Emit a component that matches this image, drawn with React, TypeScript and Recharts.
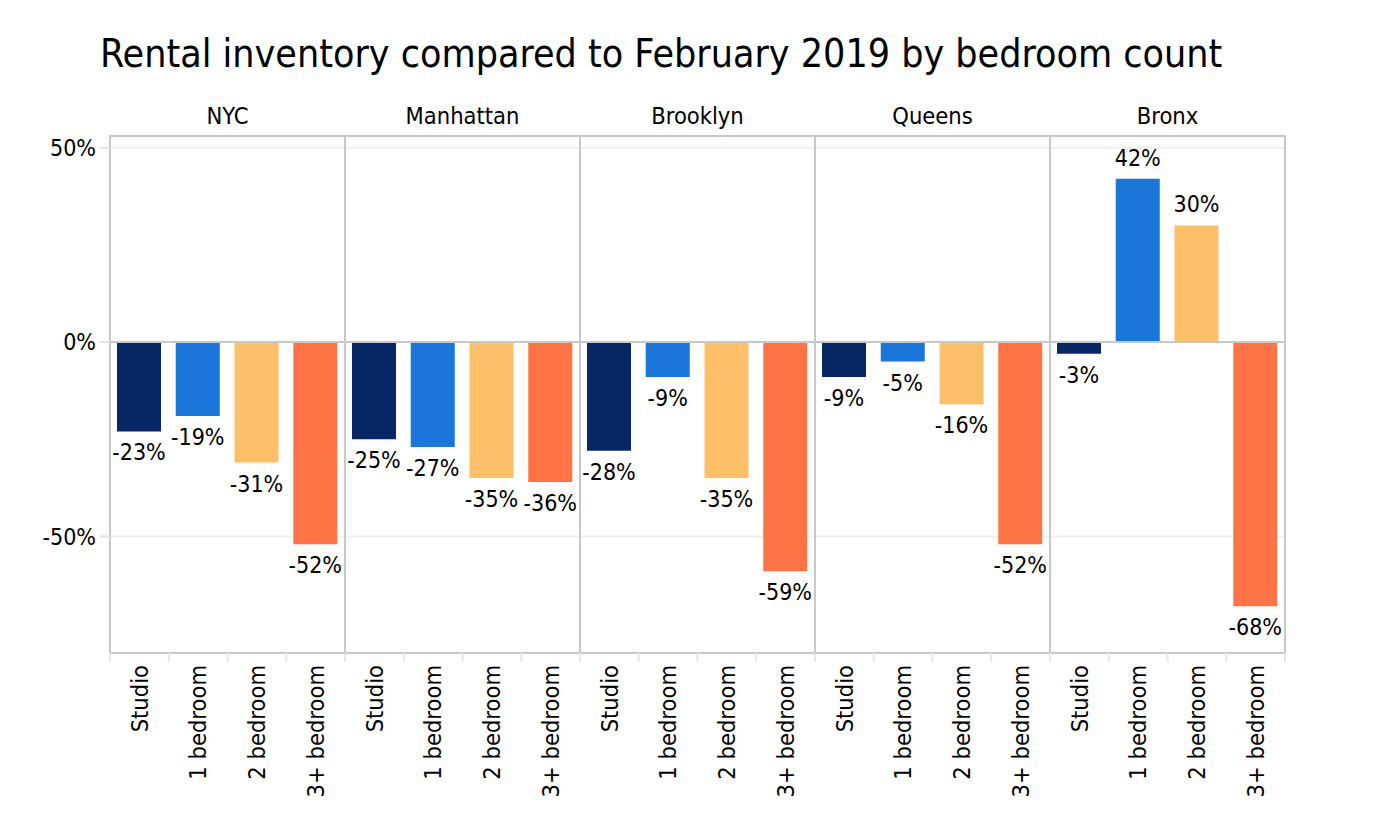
import { BarChart, Bar, XAxis, YAxis, CartesianGrid, ReferenceLine, ReferenceArea, LabelList, Cell } from "recharts";

const boroughs = ["NYC", "Manhattan", "Brooklyn", "Queens", "Bronx"];
const bedrooms = ["Studio", "1 bedroom", "2 bedroom", "3+ bedroom"];
const nycValues = [-23, -19, -31, -52];
const manhattanValues = [-25, -27, -35, -36];
const brooklynValues = [-28, -9, -35, -59];
const queensValues = [-9, -5, -16, -52];
const bronxValues = [-3, 42, 30, -68];
const bedroomColors = ["#062664", "#1b76d9", "#fdc068", "#ff7446"];
const yTicks = [-50, 0, 50];

const valuesByBorough = [nycValues, manhattanValues, brooklynValues, queensValues, bronxValues];

const data = boroughs.flatMap((borough, bi) =>
  bedrooms.map((bedroom, i) => ({
    pos: bi * bedrooms.length + i + 0.5,
    borough,
    bedroom,
    value: valuesByBorough[bi][i],
    color: bedroomColors[i],
  }))
);

// integer ticks = separator marks, half ticks = category labels
const xTicks = Array.from({ length: data.length * 2 + 1 }, (_, k) => k / 2);

const FONT = "Tahoma, 'DejaVu Sans Condensed', 'DejaVu Sans', sans-serif";

const renderXTick = (props: any) => {
  const { x, y, payload } = props;
  const v = Number(payload?.value);
  if (Number.isInteger(v)) {
    return <line x1={x} x2={x} y1={y} y2={y + 9} stroke="#e6e6e6" strokeWidth={2} />;
  }
  const label = bedrooms[Math.floor(v) % bedrooms.length];
  const ty = y + 12;
  return (
    <text x={x} y={ty} dy="0.35em" textAnchor="end" fill="#000" fontSize={23.5} transform={`rotate(-90 ${x} ${ty})`}>
      {label}
    </text>
  );
};

const renderBarLabel = (props: any) => {
  const vb = props.viewBox || props;
  const x = Number(vb.x) || 0;
  const y = Number(vb.y) || 0;
  const w = Number(vb.width) || 0;
  const h = Number(vb.height) || 0;
  const value = Number(props.value);
  const top = Math.min(y, y + h);
  const bottom = Math.max(y, y + h);
  const ty = value < 0 ? bottom + 21 : top - 21;
  return (
    <text x={x + w / 2} y={ty} dy="0.35em" textAnchor="middle" fill="#000" fontSize={23}>
      {`${value}%`}
    </text>
  );
};

export default function App() {
  return (
    <div style={{ position: "relative", width: 1370, height: 800, fontFamily: FONT, background: "#fff" }}>
      <div style={{ position: "absolute", left: 92, top: 26, fontSize: 39, lineHeight: "39px", color: "#000", whiteSpace: "nowrap" }}>
        Rental inventory compared to February 2019 by bedroom count
      </div>
      <BarChart width={1370} height={800} data={data} margin={{ top: 128, right: 93, left: 32, bottom: 10 }}>
        <CartesianGrid vertical={false} stroke="#efefef" strokeWidth={2} />
        <XAxis
          type="number"
          dataKey="pos"
          domain={[0, data.length]}
          ticks={xTicks}
          interval={0}
          tick={renderXTick}
          tickLine={false}
          axisLine={false}
          tickSize={0}
          tickMargin={0}
          height={145}
        />
        <YAxis
          type="number"
          domain={[-80, 53]}
          ticks={yTicks}
          allowDataOverflow
          tickFormatter={(v: number) => `${v}%`}
          axisLine={false}
          tickLine={{ stroke: "#e3e3e3", strokeWidth: 2 }}
          tickSize={10}
          tickMargin={4}
          width={70}
          tick={{ fill: "#000", fontSize: 23 }}
        />
        <ReferenceLine y={0} stroke="#c8c8c8" strokeWidth={2} />
        {boroughs.map((b, bi) => (
          <ReferenceArea
            key={b}
            x1={bi * bedrooms.length}
            x2={(bi + 1) * bedrooms.length}
            fill="none"
            fillOpacity={0}
            stroke="#c8c8c8"
            strokeWidth={2}
            label={{ value: b, position: "top", offset: 12, fill: "#000", fontSize: 23.5 }}
          />
        ))}
        <Bar dataKey="value" barSize={44} isAnimationActive={false}>
          {data.map((d, i) => (
            <Cell key={`cell-${i}`} fill={d.color} />
          ))}
          <LabelList dataKey="value" content={renderBarLabel} />
        </Bar>
      </BarChart>
    </div>
  );
}
